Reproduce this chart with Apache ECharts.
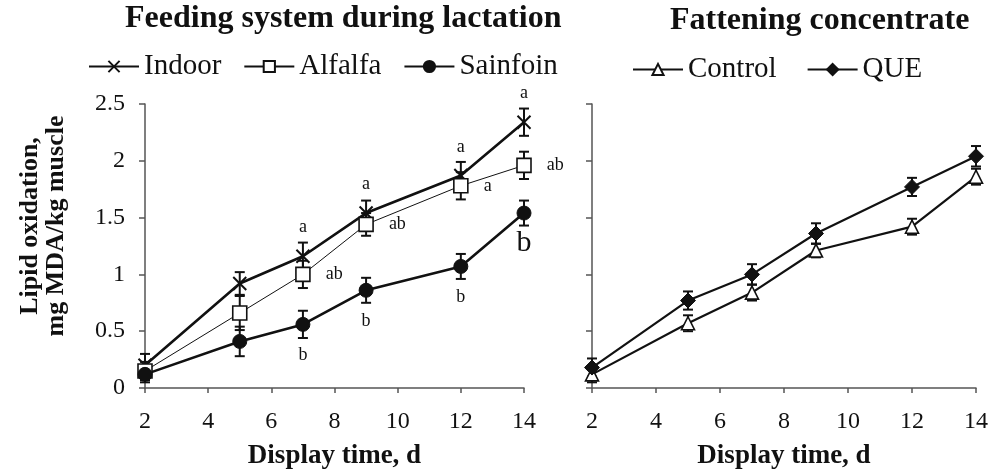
<!DOCTYPE html>
<html><head><meta charset="utf-8">
<script src="https://cdn.jsdelivr.net/npm/echarts@6/dist/echarts.min.js"></script>
<style>html,body{margin:0;padding:0;background:#fff}#c{width:990px;height:469px}</style>
</head><body><div id="c"></div>
<script>
const days = [2, 5, 7, 9, 12, 14];
const yTicks = [0, 0.5, 1, 1.5, 2, 2.5];
// Left panel: feeding system during lactation
const indoorMean = [0.20, 0.92, 1.16, 1.54, 1.87, 2.34];
const indoorErr  = [0.10, 0.10, 0.12, 0.11, 0.12, 0.12];
const indoorLetters = ['', '', 'a', 'a', 'a', 'a'];
const alfalfaMean = [0.15, 0.66, 1.00, 1.44, 1.78, 1.96];
const alfalfaErr  = [0.08, 0.15, 0.12, 0.10, 0.12, 0.12];
const alfalfaLetters = ['', '', 'ab', 'ab', 'a', 'ab'];
const sainfoinMean = [0.12, 0.41, 0.56, 0.86, 1.07, 1.54];
const sainfoinErr  = [0.07, 0.13, 0.12, 0.11, 0.11, 0.11];
const sainfoinLetters = ['', '', 'b', 'b', 'b', 'b'];
// Right panel: fattening concentrate
const controlMean = [0.12, 0.57, 0.84, 1.21, 1.42, 1.86];
const controlErr  = [0.07, 0.07, 0.07, 0.06, 0.07, 0.07];
const queMean = [0.18, 0.77, 1.00, 1.36, 1.77, 2.04];
const queErr  = [0.08, 0.08, 0.09, 0.09, 0.08, 0.09];

const FONT = 'Liberation Serif';
const INK = '#111';
const AX = '#555';

function pts(mean, letters, labelCfg) {
  return days.map((d, i) => {
    const item = { value: [d, mean[i]] };
    if (letters && letters[i]) {
      item.label = Object.assign({ show: true, formatter: letters[i] }, labelCfg(i));
    }
    return item;
  });
}
function errData(mean, err) {
  return days.map((d, i) => [d, mean[i], err[i]]);
}
function errSeries(name, mean, err, axis) {
  return {
    type: 'custom', name: name + ' err', xAxisIndex: axis, yAxisIndex: axis, z: 5,
    silent: true, legendHoverLink: false,
    data: errData(mean, err),
    renderItem: function (params, api) {
      const x = api.value(0), m = api.value(1), e = api.value(2);
      const hi = api.coord([x, m + e]);
      const lo = api.coord([x, m - e]);
      const w = 5;
      const st = { stroke: INK, lineWidth: 2 };
      return { type: 'group', children: [
        { type: 'line', shape: { x1: hi[0], y1: hi[1], x2: lo[0], y2: lo[1] }, style: st },
        { type: 'line', shape: { x1: hi[0] - w, y1: hi[1], x2: hi[0] + w, y2: hi[1] }, style: st },
        { type: 'line', shape: { x1: lo[0] - w, y1: lo[1], x2: lo[0] + w, y2: lo[1] }, style: st }
      ]};
    }
  };
}
const lblBase = { fontFamily: FONT, fontSize: 18, color: INK };

const xAxisBase = {
  type: 'value', min: 2, max: 14, interval: 2,
  axisLine: { lineStyle: { color: AX, width: 1.5 } },
  axisTick: { lineStyle: { color: AX, width: 1.5 }, length: 5 },
  axisLabel: { fontFamily: FONT, fontSize: 24, color: INK, margin: 22 },
  splitLine: { show: false },
  name: 'Display time, d', nameLocation: 'middle', nameGap: 55,
  nameTextStyle: { fontFamily: FONT, fontSize: 27, fontWeight: 'bold', color: INK }
};
const yAxisBase = {
  type: 'value', min: 0, max: 2.5, interval: 0.5,
  axisLine: { show: true, lineStyle: { color: AX, width: 1.5 } },
  axisTick: { show: true, lineStyle: { color: AX, width: 1.5 }, length: 6 },
  splitLine: { show: false }
};

const option = {
  backgroundColor: '#fff',
  animation: false,
  graphic: [
    { type: 'text', left: 125, top: 3, style: { text: 'Feeding system during lactation', font: 'bold 32px "Liberation Serif"', fill: INK } },
    { type: 'text', left: 670, top: 5, style: { text: 'Fattening concentrate', font: 'bold 32px "Liberation Serif"', fill: INK } }
  ],
  legend: [
    { data: ['Indoor', 'Alfalfa', 'Sainfoin'], left: 83, top: 47, itemWidth: 50, itemHeight: 14, itemGap: 22,
      textStyle: { fontFamily: FONT, fontSize: 29, color: INK } },
    { data: ['Control', 'QUE'], left: 627, top: 50, itemWidth: 50, itemHeight: 14, itemGap: 30,
      textStyle: { fontFamily: FONT, fontSize: 29, color: INK } }
  ],
  grid: [
    { left: 145, right: 466, top: 104, bottom: 81, containLabel: false, outerBoundsMode: 'none' },
    { left: 592, right: 14, top: 104, bottom: 81, containLabel: false, outerBoundsMode: 'none' }
  ],
  xAxis: [
    Object.assign({}, xAxisBase, { gridIndex: 0 }),
    Object.assign({}, xAxisBase, { gridIndex: 1 })
  ],
  yAxis: [
    Object.assign({}, yAxisBase, { gridIndex: 0,
      axisLabel: { fontFamily: FONT, fontSize: 24, color: INK, margin: 20 },
      name: 'Lipid oxidation,\nmg MDA/kg muscle', nameLocation: 'middle', nameGap: 76, nameRotate: 90,
      nameTextStyle: { fontFamily: FONT, fontSize: 26, fontWeight: 'bold', color: INK, lineHeight: 26,
        padding: [0, 0, 0, 40] } }),
    Object.assign({}, yAxisBase, { gridIndex: 1, axisLabel: { show: false } })
  ],
  series: [
    errSeries('Indoor', indoorMean, indoorErr, 0),
    errSeries('Alfalfa', alfalfaMean, alfalfaErr, 0),
    errSeries('Sainfoin', sainfoinMean, sainfoinErr, 0),
    errSeries('Control', controlMean, controlErr, 1),
    errSeries('QUE', queMean, queErr, 1),
    {
      name: 'Indoor', type: 'line', xAxisIndex: 0, yAxisIndex: 0, z: 6,
      symbol: 'path://M0,0L10,10M0,10L10,0', symbolSize: 13,
      itemStyle: { color: 'rgba(0,0,0,0)', borderColor: INK, borderWidth: 2 },
      lineStyle: { color: INK, width: 2.6 },
      data: pts(indoorMean, indoorLetters, () => Object.assign({ position: 'top', distance: 12 }, lblBase))
    },
    {
      name: 'Alfalfa', type: 'line', xAxisIndex: 0, yAxisIndex: 0, z: 6,
      symbol: 'rect', symbolSize: 14,
      itemStyle: { color: '#fff', borderColor: INK, borderWidth: 1.6 },
      lineStyle: { color: INK, width: 1 },
      data: pts(alfalfaMean, alfalfaLetters, () => Object.assign({ position: 'right', distance: 15 }, lblBase))
    },
    {
      name: 'Sainfoin', type: 'line', xAxisIndex: 0, yAxisIndex: 0, z: 6,
      symbol: 'circle', symbolSize: 14,
      itemStyle: { color: INK, borderColor: INK, borderWidth: 1 },
      lineStyle: { color: INK, width: 2.6 },
      data: pts(sainfoinMean, sainfoinLetters, (i) => Object.assign({ position: 'bottom', distance: 14 }, lblBase,
        i === days.length - 1 ? { fontSize: 30, distance: 8 } : {}))
    },
    {
      name: 'Control', type: 'line', xAxisIndex: 1, yAxisIndex: 1, z: 6,
      symbol: 'triangle', symbolSize: 13,
      itemStyle: { color: '#fff', borderColor: INK, borderWidth: 1.6 },
      lineStyle: { color: INK, width: 2.2 },
      data: pts(controlMean, null)
    },
    {
      name: 'QUE', type: 'line', xAxisIndex: 1, yAxisIndex: 1, z: 6,
      symbol: 'diamond', symbolSize: 15,
      itemStyle: { color: INK, borderColor: INK, borderWidth: 1 },
      lineStyle: { color: INK, width: 2.2 },
      data: pts(queMean, null)
    }
  ]
};
const chart = echarts.init(document.getElementById('c'), null, { renderer: 'canvas' });
chart.setOption(option);
</script>
</body></html>
